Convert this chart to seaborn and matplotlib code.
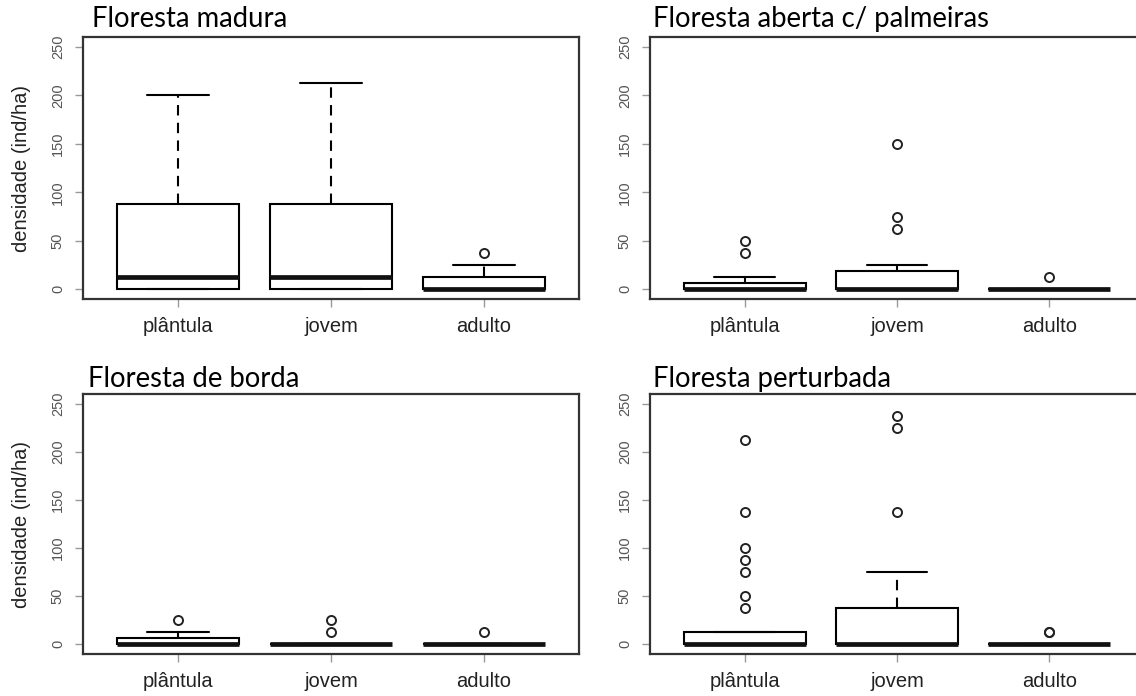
import numpy as np
import pandas as pd
import matplotlib
matplotlib.use("Agg")
import matplotlib.pyplot as plt
import seaborn as sns

# ---------------- data (ind/ha) ----------------
estagios = ["plântula", "jovem", "adulto"]
habitats = ["Floresta madura", "Floresta aberta c/ palmeiras",
            "Floresta de borda", "Floresta perturbada"]

madura_plantula = [0, 0, 0, 0, 0, 12.5, 12.5, 25, 50, 87.5, 112.5, 150, 200]
madura_jovem = [0, 0, 0, 0, 12.5, 12.5, 12.5, 37.5, 62.5, 87.5, 100, 162.5, 212.5]
madura_adulto = [0, 0, 0, 0, 0, 0, 0, 0, 0, 12.5, 12.5, 25, 37.5]

aberta_plantula = [0, 0, 0, 0, 0, 0, 0, 0, 12.5, 37.5, 50]
aberta_jovem = [0, 0, 0, 0, 0, 0, 0, 0, 0, 0, 12.5, 25, 62.5, 75, 150]
aberta_adulto = [0, 0, 0, 0, 0, 0, 0, 0, 0, 0, 12.5]

borda_plantula = [0, 0, 0, 0, 0, 0, 0, 0, 12.5, 12.5, 25]
borda_jovem = [0, 0, 0, 0, 0, 0, 0, 0, 0, 12.5, 25]
borda_adulto = [0, 0, 0, 0, 0, 0, 0, 0, 0, 0, 12.5]

perturbada_plantula = [0, 0, 0, 0, 0, 0, 0, 0, 0, 0, 0, 0, 0, 0, 0, 0, 0,
                       12.5, 12.5, 12.5, 12.5, 12.5,
                       37.5, 50, 75, 87.5, 100, 137.5, 212.5]
perturbada_jovem = [0, 0, 0, 0, 0, 0, 0, 0, 0, 12.5, 25, 37.5, 37.5, 75,
                    137.5, 225, 237.5]
perturbada_adulto = [0, 0, 0, 0, 0, 0, 0, 0, 0, 0, 0, 0, 12.5, 12.5]

yticks = [0, 50, 100, 150, 200, 250]
ylabel = "densidade (ind/ha)"

groups = {
    "Floresta madura": [madura_plantula, madura_jovem, madura_adulto],
    "Floresta aberta c/ palmeiras": [aberta_plantula, aberta_jovem, aberta_adulto],
    "Floresta de borda": [borda_plantula, borda_jovem, borda_adulto],
    "Floresta perturbada": [perturbada_plantula, perturbada_jovem, perturbada_adulto],
}

records = []
for hab in habitats:
    for est, vals in zip(estagios, groups[hab]):
        for v in vals:
            records.append((hab, est, v))
df = pd.DataFrame(records, columns=["habitat", "estagio", "densidade"])

# ---------------- style ----------------
sns.set_style("ticks")
plt.rcParams["font.family"] = ["Liberation Sans", "DejaVu Sans"]

W, H = 1136, 696
fig = plt.figure(figsize=(W / 100, H / 100), dpi=100)
fig.patch.set_facecolor("white")

# (left, top, width, height) in pixels
rects = [(83, 37, 496, 262), (650, 37, 494, 262),
         (83, 394, 496, 260), (650, 394, 494, 260)]
title_pos = [(92, 27), (653, 27), (88, 387), (653, 387)]

for i, hab in enumerate(habitats):
    x, y, w, h = rects[i]
    ax = fig.add_axes([x / W, 1 - (y + h) / H, w / W, h / H])
    sns.boxplot(
        data=df[df["habitat"] == hab], x="estagio", y="densidade",
        order=estagios, ax=ax, color="white", linecolor="black",
        linewidth=1.5, width=0.8, whis=1.5, saturation=1,
        whiskerprops=dict(linestyle=(0, (5, 3.5))),
        medianprops=dict(linewidth=3.4, color="#111111"),
        capprops=dict(linestyle="-"),
        flierprops=dict(marker="o", markerfacecolor="none",
                        markeredgecolor="#222222", markersize=6.5,
                        markeredgewidth=1.4),
    )
    ax.set_xlim(-0.62, 2.62)
    ax.set_ylim(-10, 260)
    ax.set_yticks(yticks)
    ax.set_yticklabels([str(t) for t in yticks], rotation=90, va="center")
    ax.set_xlabel("")
    if i % 2 == 0:
        ax.set_ylabel(ylabel, fontsize=14.5, color="#222222", labelpad=14)
    else:
        ax.set_ylabel("")
    for s in ax.spines.values():
        s.set_visible(True)
        s.set_color("#333333")
        s.set_linewidth(1.6)
    ax.tick_params(axis="y", direction="out", length=6, width=1,
                   color="#999999", labelsize=10.5, labelcolor="#555555", pad=7)
    ax.tick_params(axis="x", direction="out", length=6, width=1,
                   color="#999999", labelsize=14.5, labelcolor="#222222", pad=7)
    tx, ty = title_pos[i]
    fig.text(tx / W, 1 - ty / H, hab, fontsize=19.8, family=["Lato", "DejaVu Sans"],
             ha="left", va="baseline", color="black")

fig.savefig("out.png", dpi=100, facecolor="white")
